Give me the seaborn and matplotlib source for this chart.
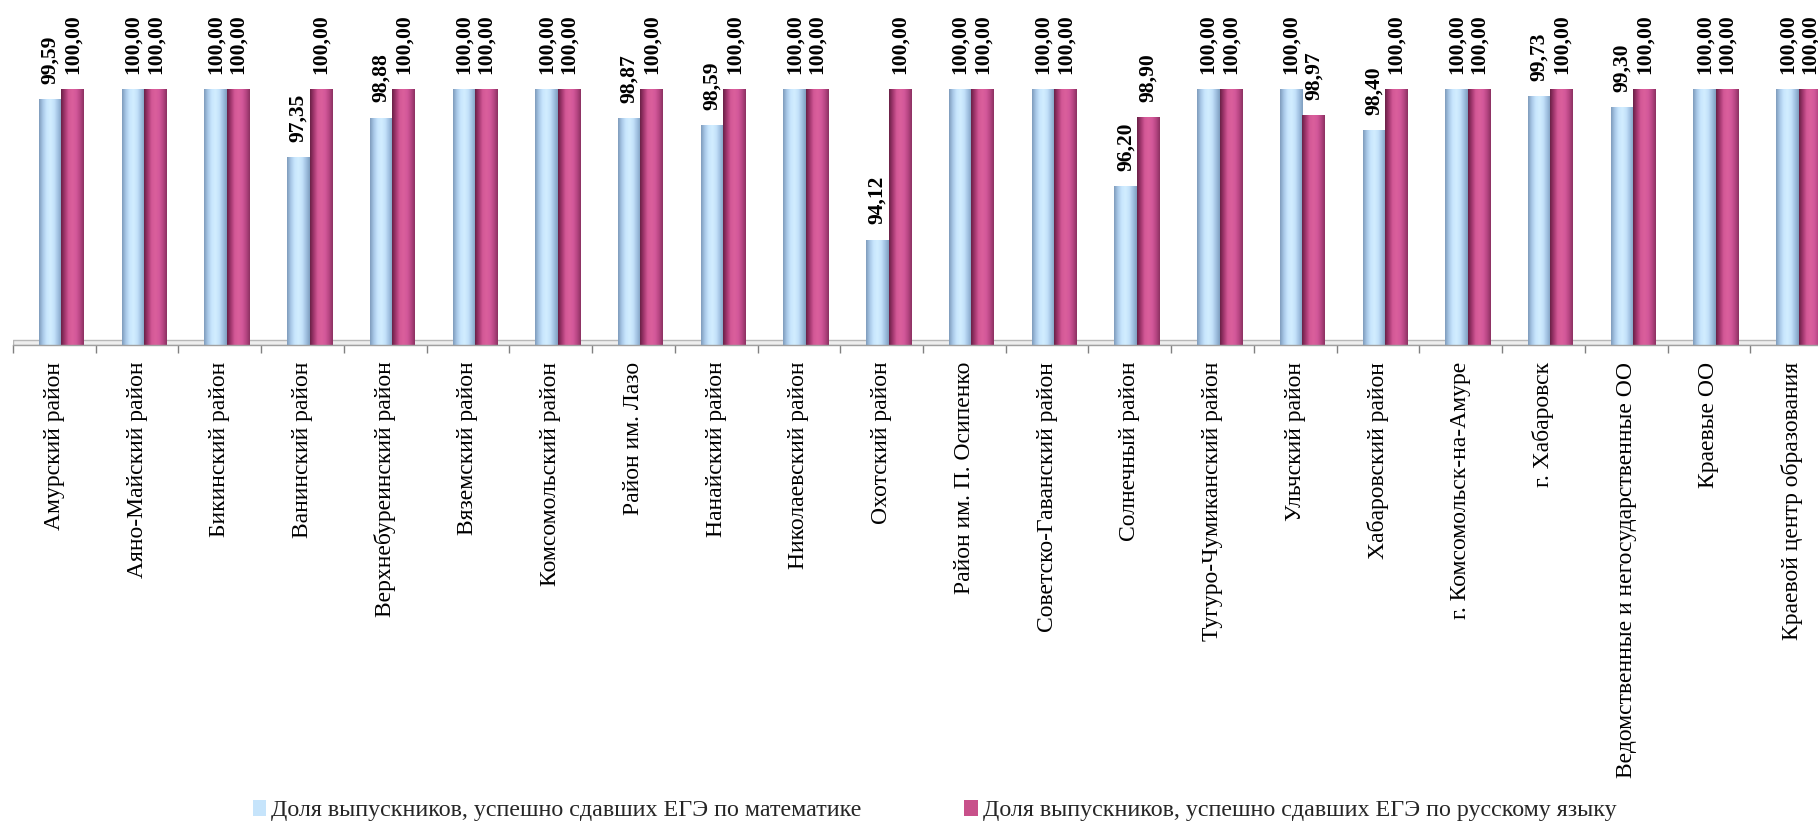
import numpy as np
import pandas as pd
import matplotlib
matplotlib.use("Agg")
import matplotlib.pyplot as plt
import seaborn as sns
from matplotlib.colors import LinearSegmentedColormap
from matplotlib.patches import Patch

categories = [
    "Амурский район", "Аяно-Майский район", "Бикинский район", "Ванинский район",
    "Верхнебуреинский район", "Вяземский район", "Комсомольский район", "Район им. Лазо",
    "Нанайский район", "Николаевский район", "Охотский район", "Район им. П. Осипенко",
    "Советско-Гаванский район", "Солнечный район", "Тугуро-Чумиканский район",
    "Ульчский район", "Хабаровский район", "г. Комсомольск-на-Амуре", "г. Хабаровск",
    "Ведомственные и негосударственные ОО", "Краевые ОО", "Краевой центр образования",
]
math_values = [99.59, 100.00, 100.00, 97.35, 98.88, 100.00, 100.00, 98.87, 98.59, 100.00,
               94.12, 100.00, 100.00, 96.20, 100.00, 100.00, 98.40, 100.00, 99.73, 99.30,
               100.00, 100.00]
russian_values = [100.00, 100.00, 100.00, 100.00, 100.00, 100.00, 100.00, 100.00, 100.00, 100.00,
                  100.00, 100.00, 100.00, 98.90, 100.00, 98.97, 100.00, 100.00, 100.00, 100.00,
                  100.00, 100.00]
series_names = [
    "Доля выпускников, успешно сдавших ЕГЭ по математике",
    "Доля выпускников, успешно сдавших ЕГЭ по русскому языку",
]

df = pd.DataFrame({
    "cat": categories * 2,
    "value": math_values + russian_values,
    "series": [series_names[0]] * len(categories) + [series_names[1]] * len(categories),
})

sns.set_theme(style="white")
plt.rcParams["font.family"] = ["Liberation Serif", "DejaVu Serif"]

W, H = 1818, 824
fig = plt.figure(figsize=(W / 100, H / 100), dpi=100)
floor_px = 345
px_per_unit = 25.6
ax = fig.add_axes([13 / W, 1 - floor_px / H, 1820 / W, floor_px / H])

base_colors = {series_names[0]: "#c6e4fb", series_names[1]: "#d65a97"}
sns.barplot(data=df, x="cat", y="value", hue="series", order=categories,
            hue_order=series_names, palette=base_colors, width=0.544,
            dodge=True, legend=False, ax=ax, linewidth=0, saturation=1)

ymin = 90
ymax = ymin + floor_px / px_per_unit
shift = 0.085
xlo, xhi = -0.5 - shift, len(categories) - 0.5 - shift

cmaps = [
    LinearSegmentedColormap.from_list("b", ["#7f9cbc", "#a9c9e8", "#c8e6fd", "#d2edff",
                                            "#c4e2fa", "#a2c2e2", "#7f9fc0"]),
    LinearSegmentedColormap.from_list("p", ["#6a2046", "#a33870", "#d35896", "#da5f9c",
                                            "#d3589a", "#b84684", "#8c3262"]),
]
grad = np.linspace(0, 1, 64).reshape(1, -1)
for cont, cmap in zip(ax.containers, cmaps):
    for bar in cont:
        x0 = bar.get_x()
        w = bar.get_width()
        h = bar.get_height()
        im = ax.imshow(grad, cmap=cmap, aspect="auto", extent=[x0, x0 + w, ymin, h],
                       zorder=bar.get_zorder() + 0.1, interpolation="bilinear")
        im.set_clip_path(bar)

for cont, vals in zip(ax.containers, [math_values, russian_values]):
    ax.bar_label(cont, labels=[f"{v:.2f}".replace(".", ",") for v in vals],
                 rotation=90, padding=11, fontsize=15.5, fontweight="bold", color="black")

ax.fill_between([xlo, xhi], ymin, ymin + 0.19, color="#eeeeee", edgecolor="#b8b8b8",
                linewidth=1, zorder=0)

ax.set_xlim(xlo, xhi)
ax.set_ylim(ymin, ymax)
ax.set_xlabel("")
ax.set_ylabel("")
ax.set_yticks([])
for s in ["top", "right", "left"]:
    ax.spines[s].set_visible(False)
ax.spines["bottom"].set_color("#a0a0a0")
ax.spines["bottom"].set_linewidth(1)

ax.set_xticks(np.arange(len(categories)) - shift)
ax.set_xticklabels(categories, rotation=90, fontsize=17, color="black")
ax.set_xticks(np.arange(len(categories) + 1) - 0.5 - shift, minor=True)
ax.tick_params(axis="x", which="major", length=0, pad=12)
ax.tick_params(axis="x", which="minor", length=5.5, width=1, color="#808080", bottom=True)

handles = [Patch(facecolor="#c6e4fb", edgecolor="none"),
           Patch(facecolor="#c8508a", edgecolor="none")]
fig.legend(handles, series_names, loc="center", bbox_to_anchor=(0.514, 0.016), ncol=2,
           frameon=False, fontsize=17.3, handlelength=0.55, handleheight=0.6,
           handletextpad=0.2, columnspacing=4.3, borderpad=0)

fig.savefig("out.png", dpi=100)
